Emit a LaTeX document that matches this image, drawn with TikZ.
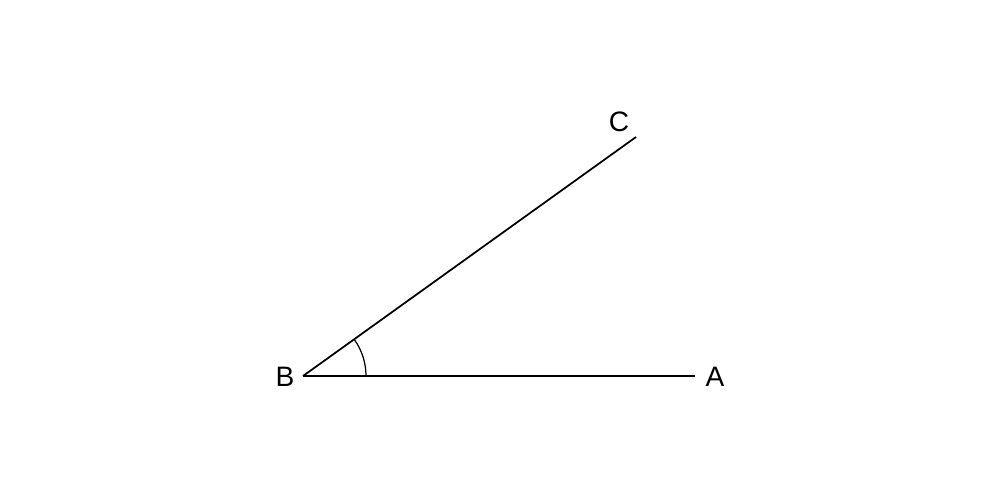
\documentclass[tikz,border=0pt]{standalone}
\usepackage{fontspec}
\setmainfont{Liberation Sans}
\usetikzlibrary{
    positioning,      % For placing nodes relative to each other
    calc              % For calculating coordinates
}

\begin{document}
\begin{tikzpicture}[
    % Global style settings
    % Style for the two rays of the angle
    ray_style/.style={
        color=black,
        line width=1pt
    },
    % Style for the angle mark
    arc_style/.style={
        color=black,
        line width=0.7pt
    },
    % Style for the point labels
    label_style/.style={
        font=\fontsize{16}{19}\selectfont,
        inner sep=1pt
    }
]
    % 0. Fix the canvas to the reference proportions.
    \useasboundingbox (0,0) rectangle (20,10.06);

    % 1. Define the vertex and the ends of the rays.
    \coordinate (vertex_B) at (6.06,2.54);
    \coordinate (end_A) at (13.90,2.54);
    \coordinate (end_C) at (12.72,7.32);

    % 2. Place the point labels.
    \node[label_style] (label_B) at (5.70,2.52) {B};
    \node[label_style] (label_A) at (14.30,2.52) {A};
    \node[label_style] (label_C) at (12.38,7.62) {C};

    % 3. Draw the two rays.
    \draw[ray_style] (vertex_B) -- (end_A);
    \draw[ray_style] (vertex_B) -- (end_C);

    % 4. Draw the angle mark between the rays.
    \draw[arc_style] ($(vertex_B)+(1.26,0)$) arc[start angle=0, end angle=35.7, radius=1.26];

\end{tikzpicture}
\end{document}
